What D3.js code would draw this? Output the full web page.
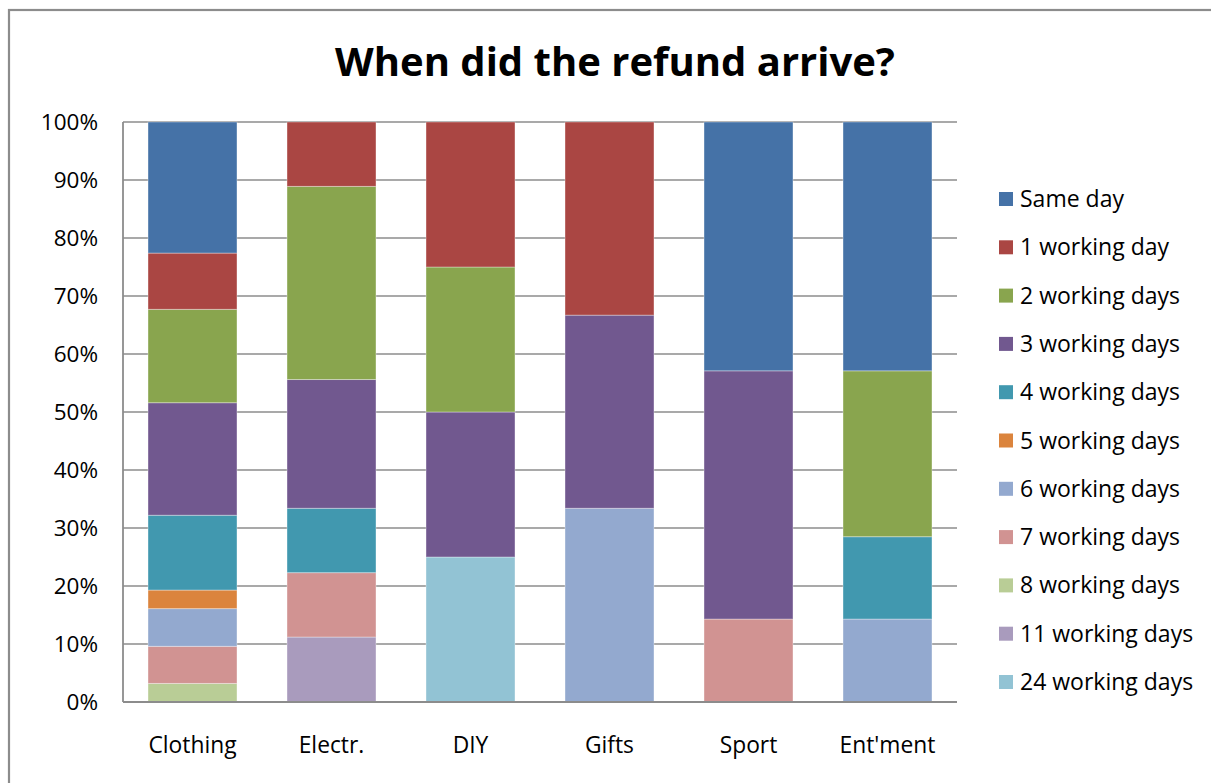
<!DOCTYPE html>
<html><head><meta charset="utf-8">
<script src="https://cdn.jsdelivr.net/npm/d3@7"></script>
<style>
html,body{margin:0;padding:0;background:#fff;}
svg{display:block;font-family:"Open Sans",sans-serif;}
</style></head>
<body><svg id="c" width="1211" height="783"></svg>
<script>
const categories = ["Clothing","Electr.","DIY","Gifts","Sport","Ent'ment"];
const seriesNames = ["Same day","1 working day","2 working days","3 working days","4 working days","5 working days","6 working days","7 working days","8 working days","11 working days","24 working days"];
const seriesColors = ["#4572A7","#AA4643","#89A54E","#71588F","#4198AF","#DB843D","#93A9CF","#D19392","#B9CD96","#A99BBD","#92C3D4"];
// percentages per category, same order as seriesNames
const sameDay   = [22.6, 0,    0,  0,    42.9, 42.9];
const wd1       = [9.7,  11.1, 25, 33.3, 0,    0];
const wd2       = [16.1, 33.3, 25, 0,    0,    28.6];
const wd3       = [19.4, 22.2, 25, 33.3, 42.8, 0];
const wd4       = [12.9, 11.1, 0,  0,    0,    14.2];
const wd5       = [3.2,  0,    0,  0,    0,    0];
const wd6       = [6.5,  0,    0,  33.4, 0,    14.3];
const wd7       = [6.4,  11.1, 0,  0,    14.3, 0];
const wd8       = [3.2,  0,    0,  0,    0,    0];
const wd11      = [0,    11.2, 0,  0,    0,    0];
const wd24      = [0,    0,    25, 0,    0,    0];
const seriesValues = [sameDay, wd1, wd2, wd3, wd4, wd5, wd6, wd7, wd8, wd11, wd24];
const yTicks = [0,10,20,30,40,50,60,70,80,90,100];

const svg = d3.select("#c");
// outer frame
svg.append("rect").attr("x",9).attr("y",10).attr("width",1220).attr("height",800)
  .attr("fill","none").attr("stroke","#8c8c8c").attr("stroke-width",2.2);

const L=123, R=957, T=122, B=702;
const x = d3.scaleBand().domain(categories).range([L,R]).paddingInner(0.36).paddingOuter(0.18);
const y = d3.scaleLinear().domain([0,100]).range([B,T]);

// gridlines
svg.append("g").selectAll("line").data(yTicks).join("line")
  .attr("x1",L).attr("x2",R).attr("y1",d=>y(d)).attr("y2",d=>y(d))
  .attr("stroke","#8c8c8c").attr("stroke-width",1.5);

// build stack data: bottom is last series
const rows = categories.map((c,i)=>{const o={cat:c}; seriesNames.forEach((s,j)=>o[s]=seriesValues[j][i]); return o;});
const stackOrder = seriesNames.slice().reverse();
const stacked = d3.stack().keys(stackOrder)(rows);
const total = rows.map(r=>d3.sum(seriesNames,s=>r[s]));
const yn = (v,i)=>y(v/total[i]*100);

const color = d3.scaleOrdinal().domain(seriesNames).range(seriesColors);
svg.append("g").selectAll("g").data(stacked).join("g")
  .attr("fill",d=>color(d.key))
  .selectAll("rect").data(d=>d.map((p,i)=>({p,i}))).join("rect")
  .filter(d=>d.p[1]-d.p[0]>0)
  .attr("x",d=>x(categories[d.i]))
  .attr("width",x.bandwidth())
  .attr("y",d=>yn(d.p[1],d.i))
  .attr("height",d=>yn(d.p[0],d.i)-yn(d.p[1],d.i))
  .attr("stroke","rgba(255,255,255,0.35)").attr("stroke-width",1);

// axes lines
svg.append("line").attr("x1",L).attr("x2",L).attr("y1",T).attr("y2",B).attr("stroke","#8c8c8c").attr("stroke-width",1.8);
svg.append("line").attr("x1",L).attr("x2",R).attr("y1",B).attr("y2",B).attr("stroke","#8c8c8c").attr("stroke-width",1.8);

// y labels
svg.append("g").selectAll("text").data(yTicks).join("text")
  .attr("x",98).attr("y",d=>y(d)).attr("dy","0.35em").attr("text-anchor","end")
  .attr("font-size",22.5).attr("fill","#000").text(d=>d+"%");
// x labels
svg.append("g").selectAll("text").data(categories).join("text")
  .attr("x",d=>x(d)+x.bandwidth()/2).attr("y",745).attr("dy","0.35em").attr("text-anchor","middle")
  .attr("font-size",22.8).attr("fill","#000").text(d=>d);

// title
svg.append("text").attr("x",615).attr("y",62).attr("dy","0.35em").attr("text-anchor","middle")
  .attr("font-size",40).attr("font-weight","bold").attr("fill","#000").text("When did the refund arrive?");

// legend
const lg = svg.append("g").selectAll("g").data(seriesNames).join("g")
  .attr("transform",(d,i)=>`translate(999,${199+i*48.3})`);
lg.append("rect").attr("x",0).attr("y",-7).attr("width",14).attr("height",14).attr("fill",d=>color(d));
lg.append("text").attr("x",21).attr("y",0).attr("dy","0.35em").attr("font-size",23).attr("fill","#000").text(d=>d);
</script></body></html>
